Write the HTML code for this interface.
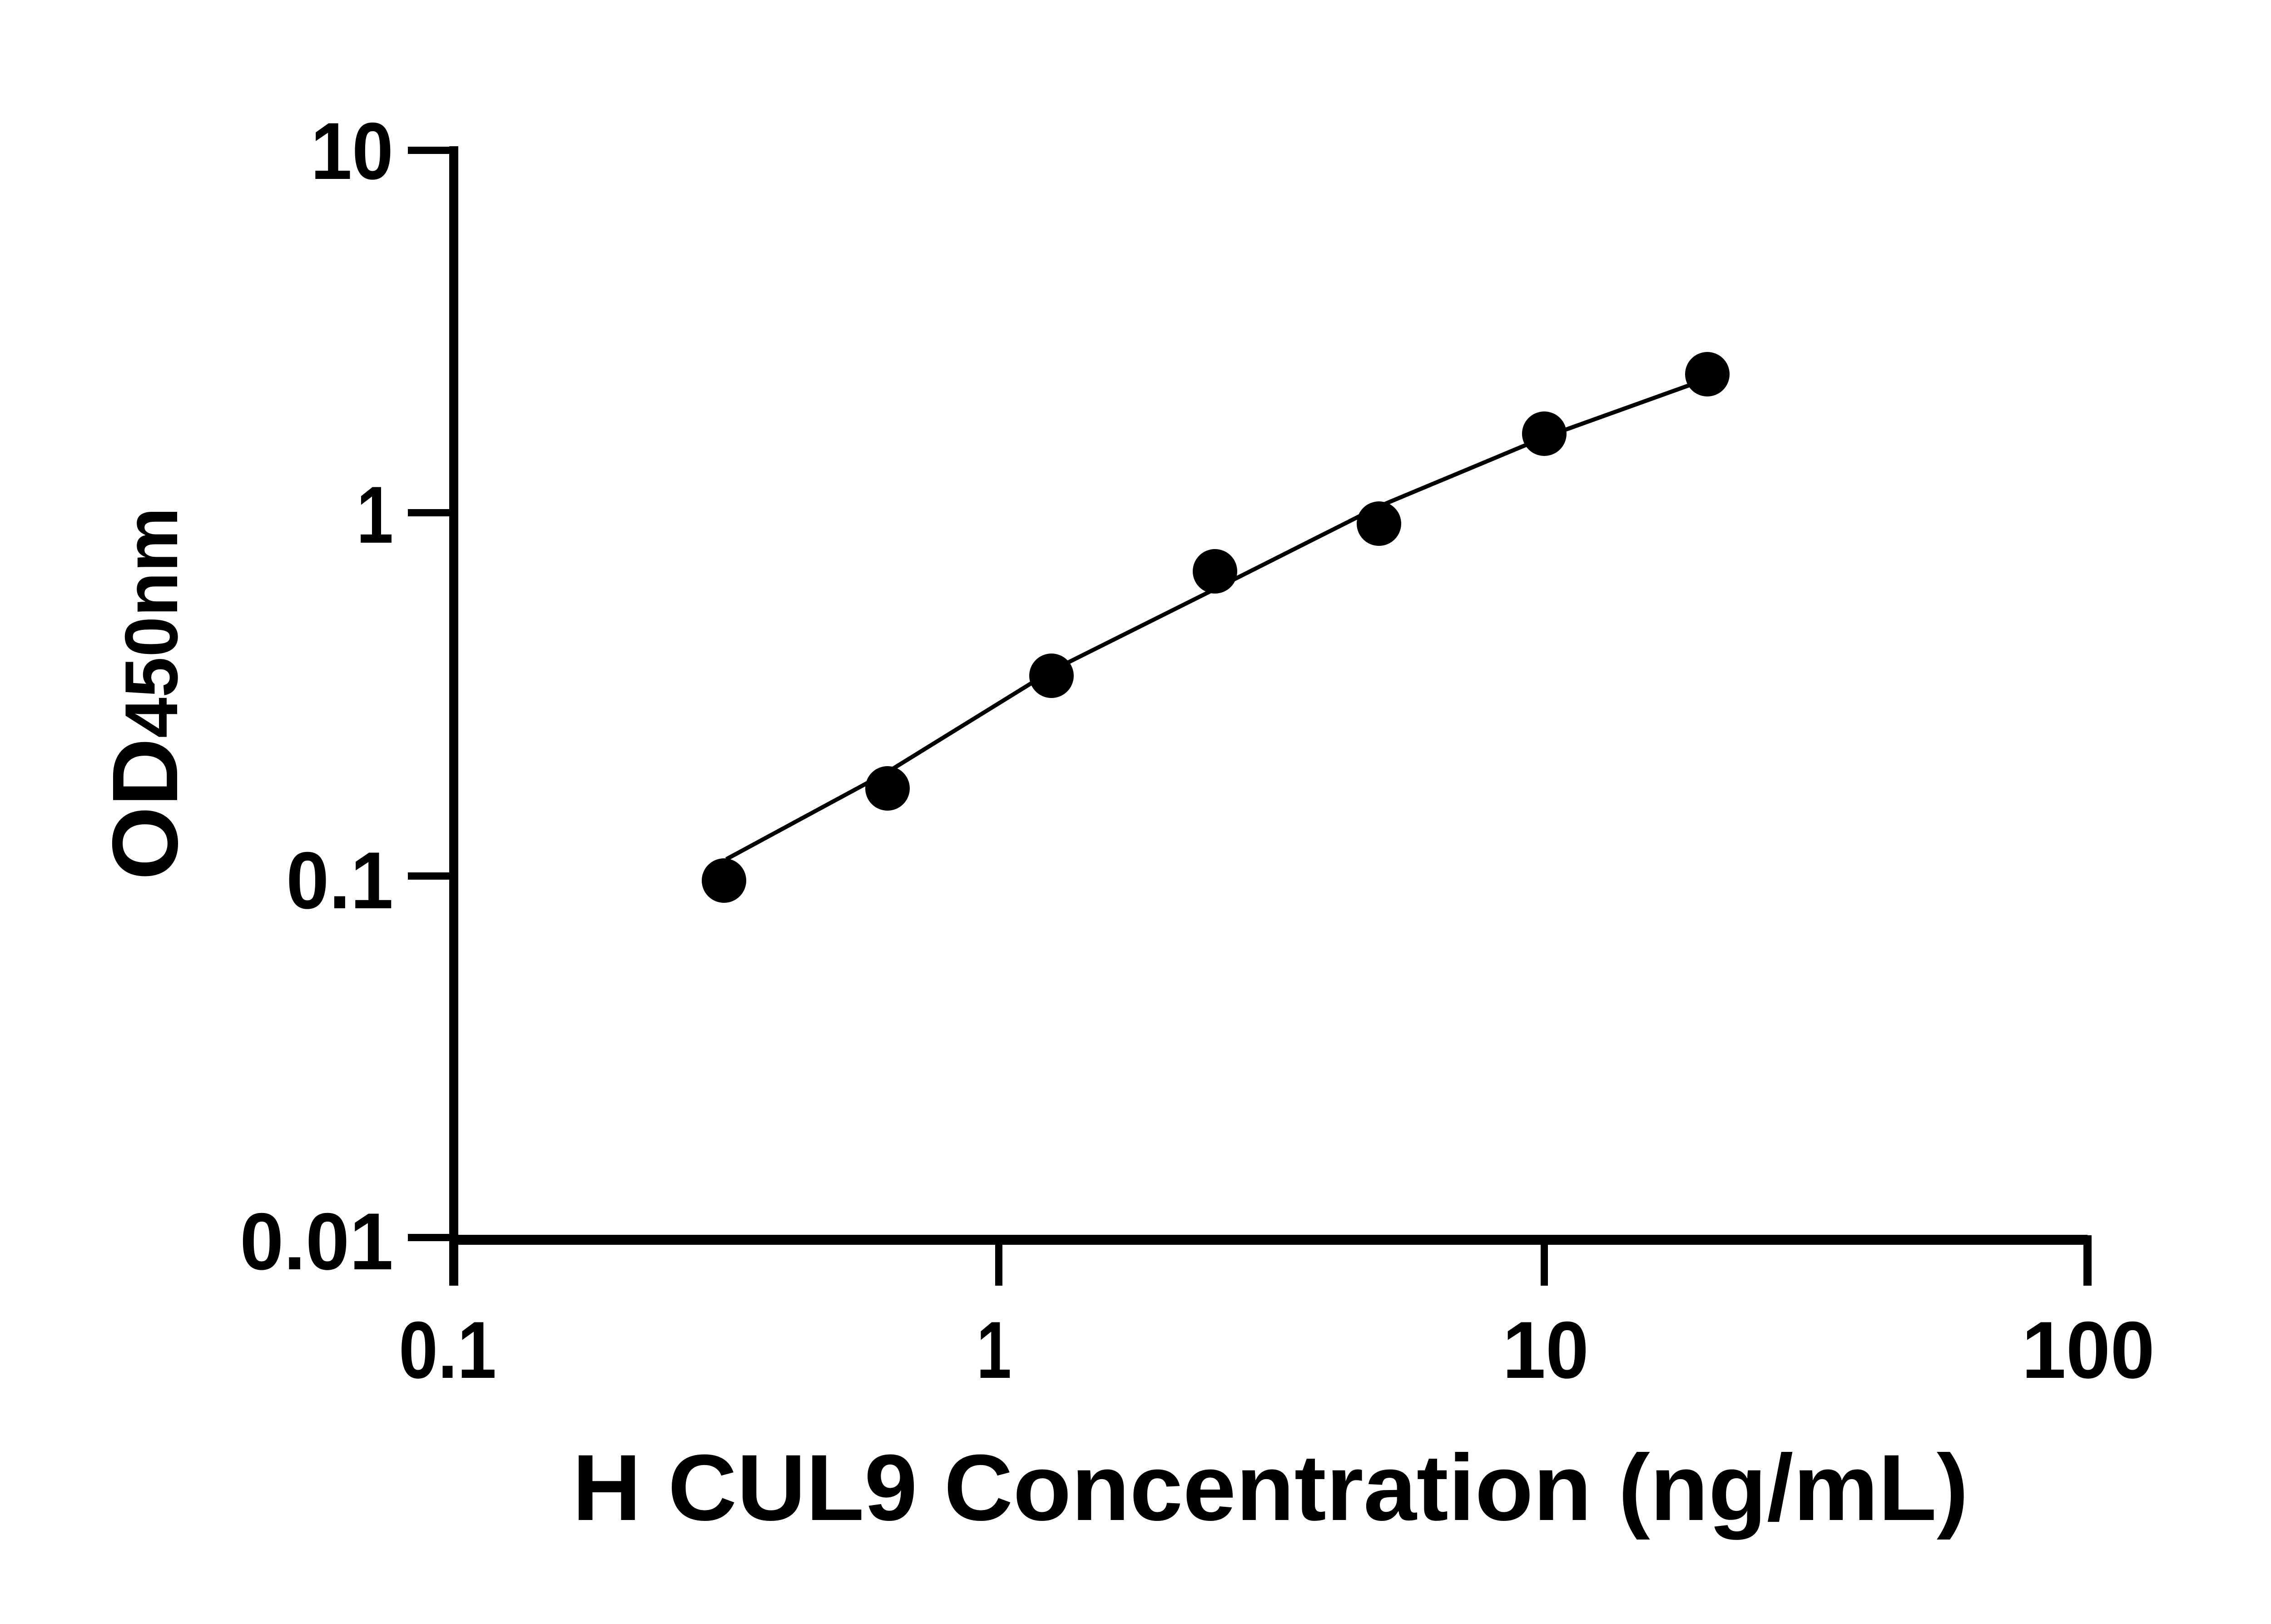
<!DOCTYPE html>
<html><head><style>html,body{margin:0;padding:0;background:#fff}svg{display:block}</style></head>
<body>
<svg width="5170" height="3576" viewBox="0 0 5170 3576" xmlns="http://www.w3.org/2000/svg">
<rect width="5170" height="3576" fill="#fff"/>
<g stroke="#000" stroke-width="20" fill="none">
<line x1="999" y1="322" x2="999" y2="2831"/>
<line x1="990" y1="2730" x2="4596" y2="2730" stroke-width="22"/>
<line x1="898" y1="331" x2="999" y2="331" stroke-width="16"/>
<line x1="898" y1="1129" x2="999" y2="1129" stroke-width="16"/>
<line x1="898" y1="1929" x2="999" y2="1929" stroke-width="16"/>
<line x1="898" y1="2725" x2="999" y2="2725" stroke-width="16"/>
<line x1="2199" y1="2730" x2="2199" y2="2831" stroke-width="16"/>
<line x1="3400" y1="2730" x2="3400" y2="2831" stroke-width="16"/>
<line x1="4596" y1="2720" x2="4596" y2="2831" stroke-width="18"/>
</g>
<polyline fill="none" stroke="#000" stroke-width="9" points="1599,1892 1954,1700 2315,1477 2675,1297 3036,1115 3400,963 3759,834"/>
<g fill="#000">
<circle cx="1594" cy="1939" r="49"/>
<circle cx="1954" cy="1736" r="49"/>
<circle cx="2315" cy="1488" r="49"/>
<circle cx="2675" cy="1258" r="49"/>
<circle cx="3036" cy="1153" r="49"/>
<circle cx="3400" cy="955" r="49"/>
<circle cx="3759" cy="824" r="49"/>
</g>
<g font-family="Liberation Sans, sans-serif" font-weight="bold" font-size="178" fill="#000">
<text x="684" y="394" textLength="182" lengthAdjust="spacingAndGlyphs">10</text>
<text x="785" y="1195" textLength="81" lengthAdjust="spacingAndGlyphs">1</text>
<text x="630" y="2000" textLength="236" lengthAdjust="spacingAndGlyphs">0.1</text>
<text x="528" y="2795" textLength="338" lengthAdjust="spacingAndGlyphs">0.01</text>
<text x="878" y="3034" textLength="215" lengthAdjust="spacingAndGlyphs">0.1</text>
<text x="2150" y="3034" textLength="77" lengthAdjust="spacingAndGlyphs">1</text>
<text x="3308" y="3034" textLength="190" lengthAdjust="spacingAndGlyphs">10</text>
<text x="4451" y="3034" textLength="293" lengthAdjust="spacingAndGlyphs">100</text>
</g>
<text x="1260" y="3347" font-family="Liberation Sans, sans-serif" font-weight="bold" font-size="207" textLength="3074" lengthAdjust="spacingAndGlyphs">H CUL9 Concentration (ng/mL)</text>
<text transform="translate(390,1938) rotate(-90)" font-family="Liberation Sans, sans-serif" font-weight="bold" font-size="205"><tspan textLength="313" lengthAdjust="spacingAndGlyphs">OD</tspan><tspan font-size="165" textLength="508" lengthAdjust="spacingAndGlyphs">450nm</tspan></text>
</svg>
</body></html>
